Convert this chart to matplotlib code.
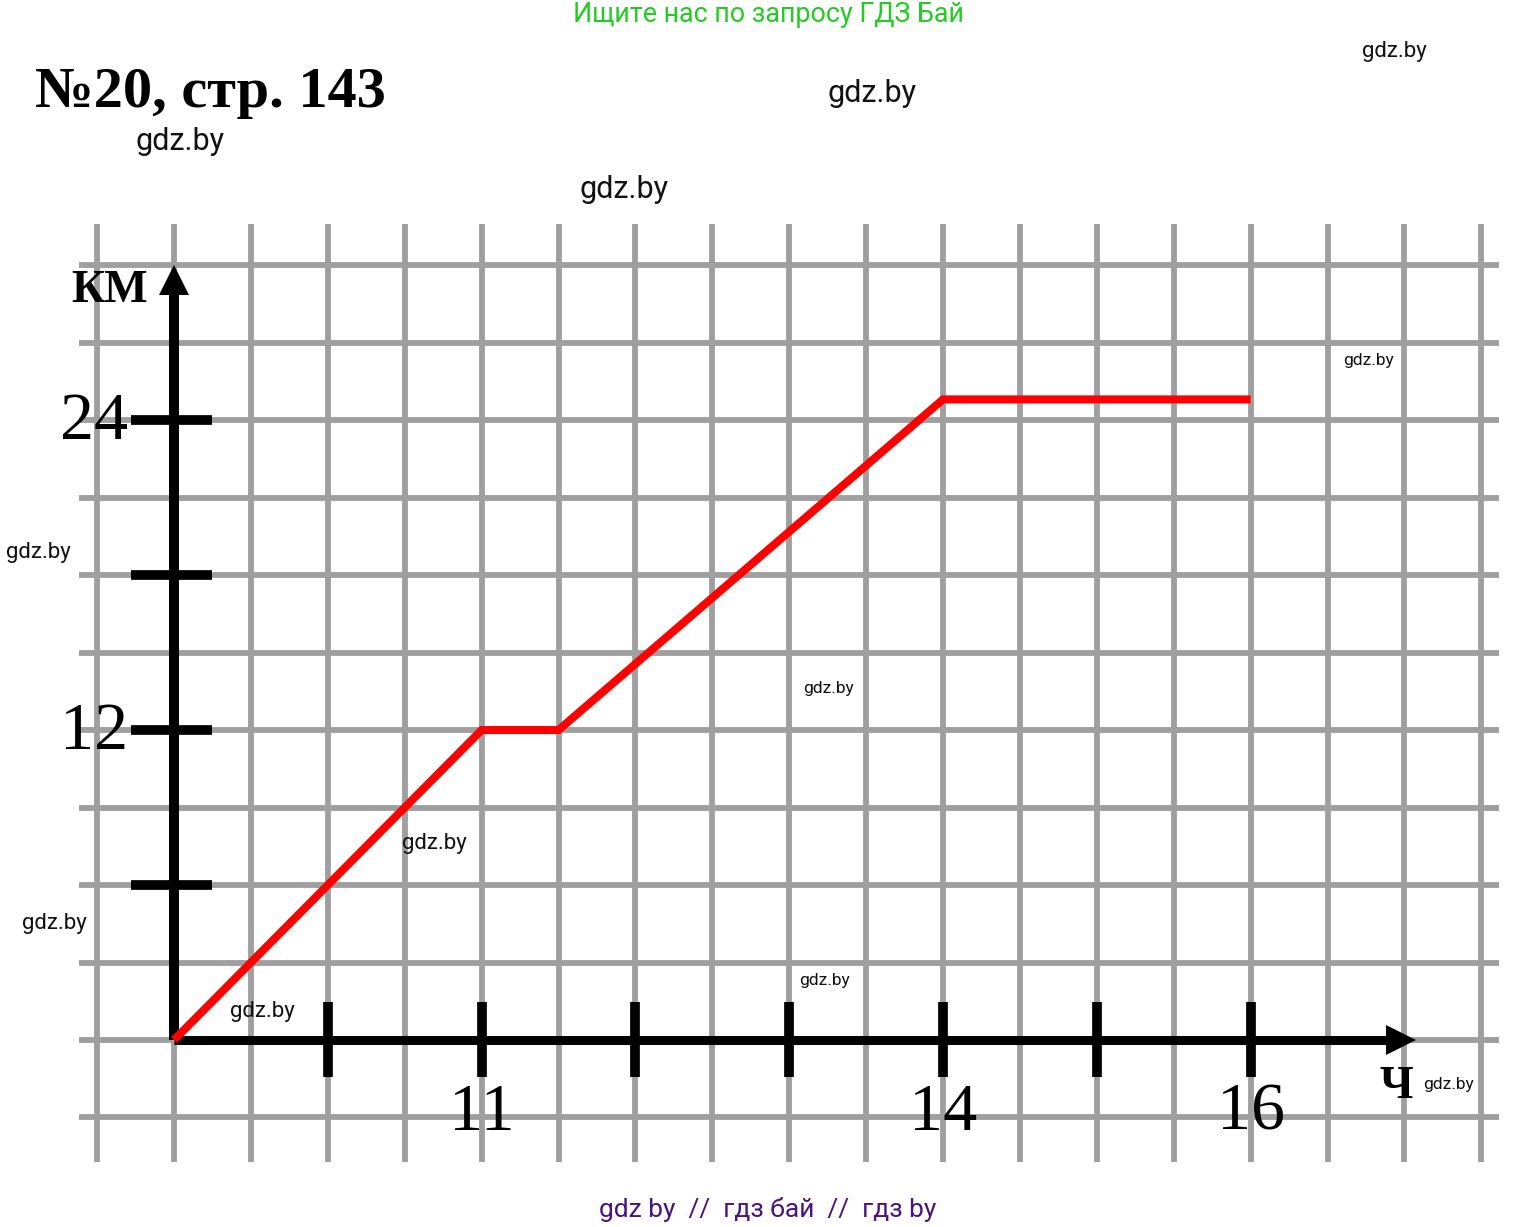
import matplotlib
matplotlib.use("Agg")
import matplotlib.pyplot as plt
import numpy as np

# ---- data ----
hours = [9, 11, 11.5, 14, 16]
km = [0, 12, 12, 24.8, 24.8]

x_tick_hours = [10, 11, 12, 13, 14, 15, 16]
x_tick_labels = {11: "11", 14: "14", 16: "16"}
y_tick_km = [6, 12, 18, 24]
y_tick_labels = {12: "12", 24: "24"}

title = "№20, стр. 143"
x_unit = "ч"
y_unit = "КМ"

# ---- figure / coordinate mapping (pixels -> data) ----
W, H = 1540, 1227
fig = plt.figure(figsize=(W / 100, H / 100), dpi=100)
ax = fig.add_axes([0, 0, 1, 1])
ax.set_axis_off()

ox_px, oy_px = 174, 1040      # origin pixel
px_per_hour = 153.8
px_per_km = 25.83
x0 = 9
ax.set_xlim(x0 - ox_px / px_per_hour, x0 + (W - ox_px) / px_per_hour)
ax.set_ylim((oy_px - H) / px_per_km, oy_px / px_per_km)

def hx(px):
    return x0 + (px - ox_px) / px_per_hour

def ky(py):
    return (oy_px - py) / px_per_km

# ---- grid paper ----
grid_color = "#9f9f9f"
grid_lw = 4.2
vx = np.arange(8.5, 17.51, 0.5)
hy = np.arange(-3, 30.01, 3)
ax.vlines(vx, ky(1162), ky(224), color=grid_color, lw=grid_lw, zorder=1)
ax.hlines(hy, hx(79), hx(1499), color=grid_color, lw=grid_lw, zorder=1)

# ---- axes with arrows ----
axis_lw = 7.2
x_tip = hx(1415)
y_tip = 30.0
head_px = 29
ax.plot([x0, x_tip - head_px / px_per_hour], [0, 0], color="black", lw=6.5,
        solid_capstyle="butt", zorder=3)
ax.plot([x0, x0], [0, y_tip - head_px / px_per_km], color="black", lw=axis_lw,
        solid_capstyle="butt", zorder=3)
ax.plot([x_tip - head_px / 2 / px_per_hour], [0], marker=">", ms=21,
        color="black", mec="black", mew=0, zorder=3)
ax.plot([x0], [y_tip - head_px / 2 / px_per_km], marker="^", ms=21,
        color="black", mec="black", mew=0, zorder=3)

# ticks
for t in x_tick_hours:
    ax.plot([t, t], [ky(1077), ky(1002)], color="black", lw=7,
            solid_capstyle="butt", zorder=3)
for t in y_tick_km:
    ax.plot([hx(131), hx(212)], [t, t], color="black", lw=7,
            solid_capstyle="butt", zorder=3)

# tick labels
serif = "Liberation Serif"
for t, lab in x_tick_labels.items():
    ax.text(t, ky(1130), lab, fontsize=49, family=serif,
            ha="center", va="baseline", zorder=4)
for t, lab in y_tick_labels.items():
    ax.text(hx(128), t - 0.75, lab, fontsize=49, family=serif,
            ha="right", va="baseline", zorder=4)

ax.text(hx(110), ky(302), y_unit, fontsize=33, family=serif,
        fontweight="bold", ha="center", va="baseline", zorder=4)
ax.text(hx(1396), ky(1098), x_unit.upper(), fontsize=33, family=serif,
        fontweight="bold", ha="center", va="baseline", zorder=4)

# ---- red graph ----
ax.plot(hours, km, color="#ff0000", lw=5.8, solid_capstyle="butt",
        solid_joinstyle="miter", zorder=5)

# ---- title and watermarks ----
fig.text(35 / W, 1 - 107 / H, title, fontsize=42, family=serif,
         fontweight="bold", ha="left", va="baseline")

roboto = "Roboto"
fig.text(768 / W, 1 - 14 / H, "Ищите нас по запросу ГДЗ Бай", fontsize=19.4,
         family=roboto, color="#22cc22", ha="center", va="center")
fig.text(768 / W, 1 - 1209 / H, "gdz by  //  гдз бай  //  гдз by", fontsize=19,
         family=roboto, color="#4a1480", ha="center", va="center")

marks = [
    (180, 141, 22), (872, 93, 22), (624, 189, 22),
    (1394, 52, 16), (38, 552, 16), (54, 924, 16), (262, 1012, 16),
    (434, 844, 16),
    (1369, 360, 12.5), (829, 688, 12.5), (825, 980, 12.5), (1449, 1084, 12.5),
]
for x, y, s in marks:
    fig.text(x / W, 1 - y / H, "gdz.by", fontsize=s, family=roboto,
             color="#111111", ha="center", va="center", zorder=10)

fig.savefig("out.png", dpi=100, facecolor="white")
